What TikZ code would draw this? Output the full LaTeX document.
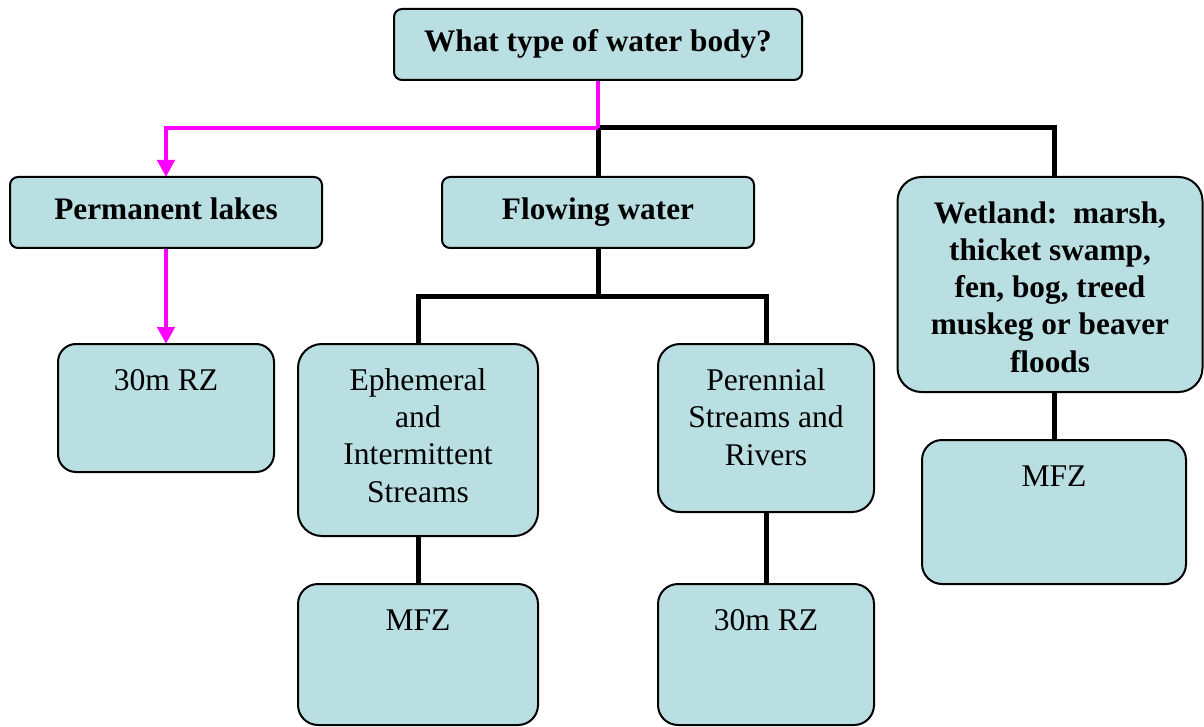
\documentclass[tikz,border=0pt]{standalone}
\usepackage{fontspec}
\setmainfont{Liberation Serif}
\usetikzlibrary{arrows.meta}
\definecolor{boxfill}{HTML}{B9DFE2}
\definecolor{pinkline}{HTML}{FF00FF}
\tikzset{
  box/.style={draw=black, line width=2pt, fill=boxfill, rectangle, inner sep=0pt},
  boldtxt/.style={font=\fontsize{31.3}{37.2}\selectfont\bfseries, align=center, inner sep=0pt, anchor=base},
  regtxt/.style={font=\fontsize{31.6}{37.3}\selectfont, align=center, inner sep=0pt, anchor=base},
  blackline/.style={draw=black, line width=5pt},
  pinkconn/.style={draw=pinkline, line width=4.5pt},
  pinkarrow/.style={pinkconn, -{Triangle[width=17pt,length=17pt]}, shorten >=-1pt},
}
\begin{document}
\begin{tikzpicture}[x=1pt,y=-1pt]
\useasboundingbox (0,0) rectangle (1204,727);
% boxes
\node[box, rounded corners=8pt, minimum width=408pt, minimum height=71pt] (top) at (598,44.5) {};
\node[box, rounded corners=8pt, minimum width=312pt, minimum height=71pt] (perm) at (166,212.5) {};
\node[box, rounded corners=8pt, minimum width=312pt, minimum height=71pt] (flow) at (598,212.5) {};
\node[box, rounded corners=24pt, minimum width=305pt, minimum height=215pt] (wet) at (1050,284.5) {};
\node[box, rounded corners=18pt, minimum width=216pt, minimum height=128pt] (rzA) at (166,408) {};
\node[box, rounded corners=24pt, minimum width=240pt, minimum height=192pt] (eph) at (418,440) {};
\node[box, rounded corners=22pt, minimum width=216pt, minimum height=168pt] (per) at (766,428) {};
\node[box, rounded corners=20pt, minimum width=240pt, minimum height=141pt] (mfzA) at (418,654.5) {};
\node[box, rounded corners=20pt, minimum width=216pt, minimum height=141pt] (rzB) at (766,654.5) {};
\node[box, rounded corners=20pt, minimum width=264pt, minimum height=144pt] (mfzB) at (1054,512) {};
% texts (base anchor = baseline of the last line)
\node[boldtxt] (tTop) at (598,52) {What type of water body?};
\node[boldtxt] (tPerm) at (166,220) {Permanent lakes};
\node[boldtxt] (tFlow) at (598,220) {Flowing water};
\node[boldtxt] (tWet) at (1050,372) {Wetland:\ \ marsh,\\thicket swamp,\\fen, bog, treed\\muskeg or beaver\\floods};
\node[regtxt] (tRzA) at (166,390) {30m RZ};
\node[regtxt] (tEph) at (418,502) {Ephemeral\\and\\Intermittent\\Streams};
\node[regtxt] (tPer) at (766,465) {Perennial\\Streams and\\Rivers};
\node[regtxt] (tMfzA) at (418,630) {MFZ};
\node[regtxt] (tRzB) at (766,630) {30m RZ};
\node[regtxt] (tMfzB) at (1054,486) {MFZ};
% junctions
\coordinate (j) at (598,128);
\coordinate (k) at (598,296);
% black connectors
\draw[blackline] (j) -| (wet.north -| mfzB.north);
\draw[blackline] (j) -- (flow.north);
\draw[blackline] (flow.south) -- (k);
\draw[blackline] (k) -| (eph.north);
\draw[blackline] (k) -| (per.north);
\draw[blackline] (eph.south) -- (mfzA.north);
\draw[blackline] (per.south) -- (rzB.north);
\draw[blackline] (wet.south -| mfzB.north) -- (mfzB.north);
% magenta connectors
\draw[pinkconn] (top.south) -- (j);
\draw[pinkarrow] (j) -| (perm.north);
\draw[pinkarrow] (perm.south) -- (rzA.north);
\end{tikzpicture}
\end{document}
